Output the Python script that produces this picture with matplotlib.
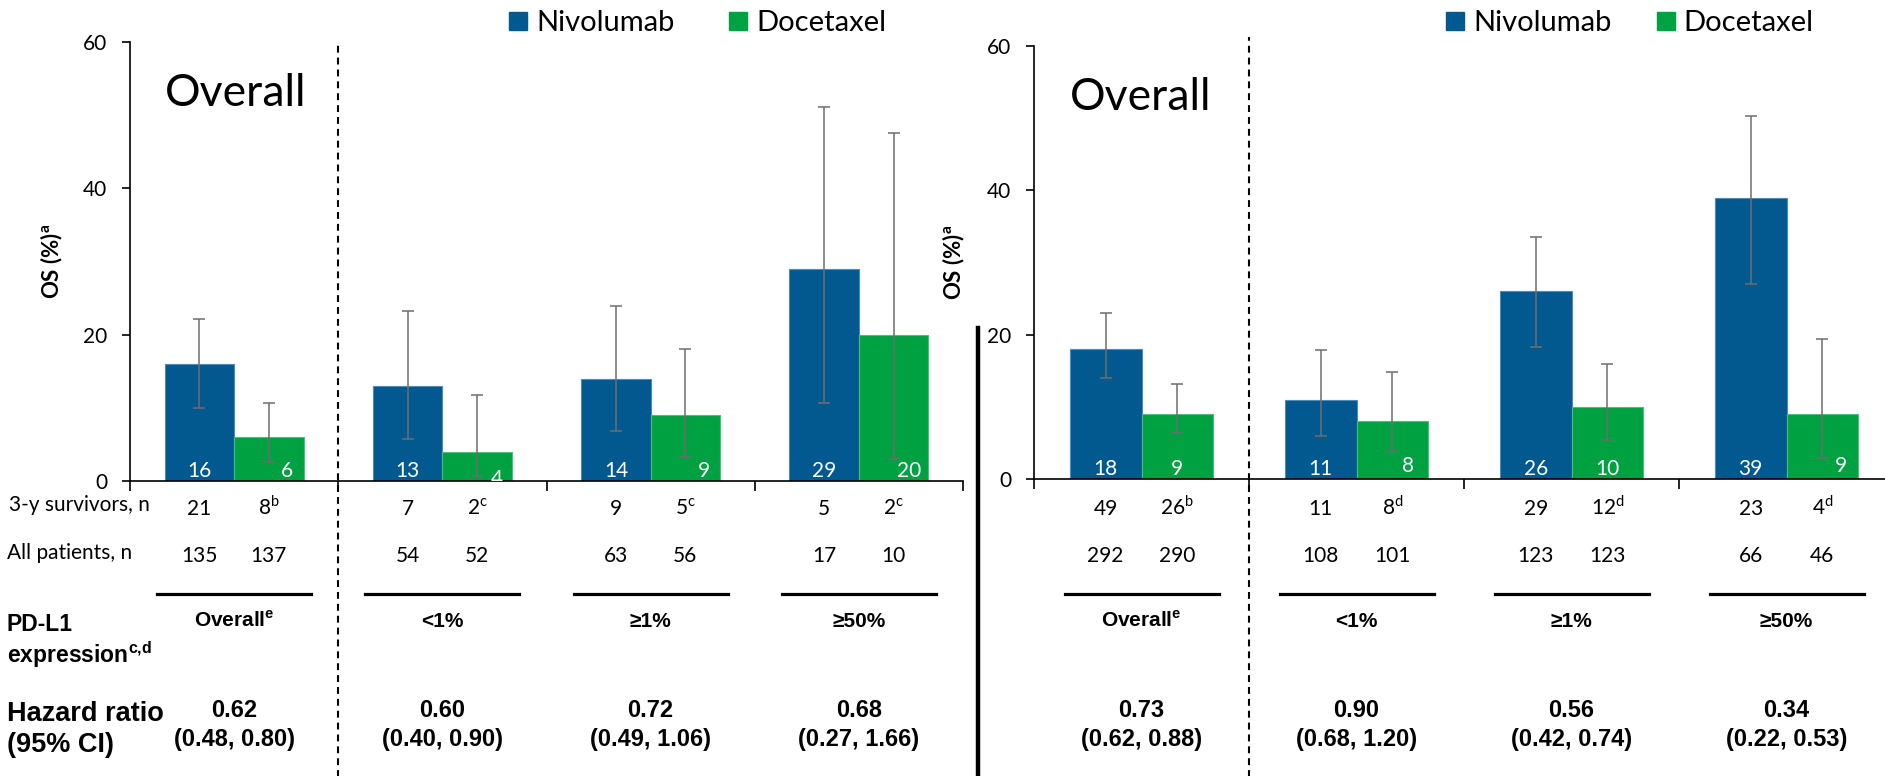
import numpy as np
import matplotlib.pyplot as plt
from matplotlib import transforms
from matplotlib.lines import Line2D
from matplotlib.patches import Rectangle

W, H, DPI = 1885, 776, 100

# PD-L1 subgroups shown along each panel
groups = ['Overall', '<1%', '≥1%', '≥50%']
group_marks = ['e', '', '', '']

# left study: 3-y OS (%) and 95% CI
nivo_os_l = [16, 13, 14, 29]
doce_os_l = [6, 4, 9, 20]
nivo_lo_l = [10.0, 5.7, 6.9, 10.7]
nivo_hi_l = [22.1, 23.3, 23.9, 51.1]
doce_lo_l = [2.6, 0.7, 3.3, 3.0]
doce_hi_l = [10.6, 11.7, 18.0, 47.5]
nivo_surv_l = [21, 7, 9, 5]
doce_surv_l = [8, 2, 5, 2]
doce_surv_marks_l = ['b', 'c', 'c', 'c']
nivo_n_l = [135, 54, 63, 17]
doce_n_l = [137, 52, 56, 10]
hr_l = ['0.62', '0.60', '0.72', '0.68']
hr_ci_l = ['(0.48, 0.80)', '(0.40, 0.90)', '(0.49, 1.06)', '(0.27, 1.66)']

# right study
nivo_os_r = [18, 11, 26, 39]
doce_os_r = [9, 8, 10, 9]
nivo_lo_r = [14.0, 5.9, 18.3, 27.0]
nivo_hi_r = [23.0, 17.9, 33.5, 50.3]
doce_lo_r = [6.4, 3.9, 5.4, 2.9]
doce_hi_r = [13.2, 14.8, 15.9, 19.4]
nivo_surv_r = [49, 11, 29, 23]
doce_surv_r = [26, 8, 12, 4]
doce_surv_marks_r = ['b', 'd', 'd', 'd']
nivo_n_r = [292, 108, 123, 66]
doce_n_r = [290, 101, 123, 46]
hr_r = ['0.73', '0.90', '0.56', '0.34']
hr_ci_r = ['(0.62, 0.88)', '(0.68, 1.20)', '(0.42, 0.74)', '(0.22, 0.53)']

BLUE, BLUE_EDGE = '#02598f', '#4a8cc0'
GREEN, GREEN_EDGE = '#00a140', '#4cc07a'
ERR = '#6e6e6e'
ARIAL = ['Liberation Sans', 'DejaVu Sans']

plt.rcParams['font.family'] = ['Lato', 'DejaVu Sans']


def sup(s):
    # footnote letter set as a superscript in the text's own font
    return r'$^{\mathregular{%s}}$' % s if s else ''


def fx(p):
    return p / W


def fy(p):
    return 1 - p / H


fig = plt.figure(figsize=(W / DPI, H / DPI), dpi=DPI)


def draw_panel(rect, nivo_os, doce_os, nivo_lo, nivo_hi, doce_lo, doce_hi,
               nivo_surv, doce_surv, doce_marks, nivo_n, doce_n, hr, hr_ci,
               doce_dx, doce_dy, dash_top):
    ax = fig.add_axes(rect)
    x = np.arange(len(groups))
    bw = 1 / 3

    ax.bar(x - bw / 2, nivo_os, bw, color=BLUE, edgecolor=BLUE_EDGE, lw=0.8, zorder=2)
    ax.bar(x + bw / 2, doce_os, bw, color=GREEN, edgecolor=GREEN_EDGE, lw=0.8, zorder=2)
    ax.errorbar(x - bw / 2, nivo_os,
                yerr=[np.subtract(nivo_os, nivo_lo), np.subtract(nivo_hi, nivo_os)],
                fmt='none', ecolor=ERR, elinewidth=1.1, capsize=4, capthick=1.1, zorder=3)
    ax.errorbar(x + bw / 2, doce_os,
                yerr=[np.subtract(doce_os, doce_lo), np.subtract(doce_hi, doce_os)],
                fmt='none', ecolor=ERR, elinewidth=1.1, capsize=4, capthick=1.1, zorder=3)

    # values printed at the foot of each bar
    for i in range(len(groups)):
        ax.text(x[i] - bw / 2, 0.6, str(nivo_os[i]), color='white', fontsize=15,
                ha='center', va='baseline', zorder=4, clip_on=True)
        ax.text(x[i] + bw / 2 + doce_dx[i], 0.6 + doce_dy[i], str(doce_os[i]),
                color='white', fontsize=15, ha='center', va='baseline', zorder=4,
                clip_on=True)

    ax.text(-bw, 51.2, 'Overall', fontsize=32, ha='left', va='baseline')
    ax.axvline(0.5, ymin=-0.7, ymax=dash_top, color='black', lw=1.5,
               ls=(0, (3.3, 2.4)), clip_on=False)

    ax.set_xlim(-0.5, len(groups) - 0.5)
    ax.set_ylim(0, 60)
    ax.set_yticks([0, 20, 40, 60])
    ax.set_xticks(np.arange(len(groups) + 1) - 0.5)
    ax.set_xticklabels([])
    for s in ['top', 'right']:
        ax.spines[s].set_visible(False)
    for s in ['left', 'bottom']:
        ax.spines[s].set_linewidth(1.2)
    ax.tick_params(axis='y', length=5.8, width=1.2, pad=10.5, labelsize=15)
    ax.tick_params(axis='x', length=7.2, width=1.2)
    ax.set_ylabel('OS (%)' + sup('a'), fontsize=16, fontweight='bold')
    ax.yaxis.set_label_coords(-0.078, 0.5)

    # table under the bars: counts, subgroup, hazard ratio
    tr = transforms.blended_transform_factory(ax.transData, fig.transFigure)
    half = 77 / (rect[2] * W / len(groups))
    for i in range(len(groups)):
        ax.text(x[i] - bw / 2, fy(515), str(nivo_surv[i]), transform=tr, fontsize=15,
                ha='center', va='baseline')
        ax.text(x[i] + bw / 2, fy(515), str(doce_surv[i]) + sup(doce_marks[i]),
                transform=tr, fontsize=15, ha='center', va='baseline')
        ax.text(x[i] - bw / 2, fy(562), str(nivo_n[i]), transform=tr, fontsize=15,
                ha='center', va='baseline')
        ax.text(x[i] + bw / 2, fy(562), str(doce_n[i]), transform=tr, fontsize=15,
                ha='center', va='baseline')
        fig.add_artist(Line2D([x[i] - half, x[i] + half], [fy(594)] * 2,
                              transform=tr, color='black', lw=2.3))
        ax.text(x[i], fy(627), groups[i] + sup(group_marks[i]), transform=tr,
                family=ARIAL, fontsize=15, fontweight='bold', ha='center', va='baseline')
        ax.text(x[i], fy(717), hr[i], transform=tr, family=ARIAL, fontsize=17,
                fontweight='bold', ha='center', va='baseline')
        ax.text(x[i], fy(746), hr_ci[i], transform=tr, family=ARIAL, fontsize=17,
                fontweight='bold', ha='center', va='baseline')
    return ax


draw_panel([fx(130), fy(481), fx(833), 439 / H],
           nivo_os_l, doce_os_l, nivo_lo_l, nivo_hi_l, doce_lo_l, doce_hi_l,
           nivo_surv_l, doce_surv_l, doce_surv_marks_l, nivo_n_l, doce_n_l, hr_l, hr_ci_l,
           doce_dx=[0.087, 0.094, 0.091, 0.077], doce_dy=[0, -1.2, 0, 0],
           dash_top=1.0)
draw_panel([fx(1034), fy(479), fx(860), 433 / H],
           nivo_os_r, doce_os_r, nivo_lo_r, nivo_hi_r, doce_lo_r, doce_hi_r,
           nivo_surv_r, doce_surv_r, doce_surv_marks_r, nivo_n_r, doce_n_r, hr_r, hr_ci_r,
           doce_dx=[0, 0.072, 0, 0.088], doce_dy=[0, 0.4, 0, 0.4],
           dash_top=1.021)

# row headings on the left
fig.text(fx(9), fy(511), '3-y survivors, n', fontsize=15, va='baseline')
fig.text(fx(7), fy(559), 'All patients, n', fontsize=15, va='baseline')
fig.text(fx(7), fy(631), 'PD-L1', family=ARIAL, fontsize=16.5, fontweight='bold', va='baseline')
fig.text(fx(7), fy(663), 'expression' + sup('c{,}d'), family=ARIAL, fontsize=16.5,
         fontweight='bold', va='baseline')
fig.text(fx(7), fy(721), 'Hazard ratio', family=ARIAL, fontsize=19.5, fontweight='bold',
         va='baseline')
fig.text(fx(7), fy(752), '(95% CI)', family=ARIAL, fontsize=19.5, fontweight='bold',
         va='baseline')

# legends above each panel
for sq_n, tx_n, sq_d, tx_d in [(509, 536, 729, 756), (1446, 1473, 1657, 1683)]:
    fig.add_artist(Rectangle((fx(sq_n), fy(30)), 18 / W, 18 / H, color=BLUE,
                             transform=fig.transFigure))
    fig.text(fx(tx_n), fy(31), 'Nivolumab', fontsize=21, va='baseline')
    fig.add_artist(Rectangle((fx(sq_d), fy(30)), 18 / W, 18 / H, color=GREEN,
                             transform=fig.transFigure))
    fig.text(fx(tx_d), fy(31), 'Docetaxel', fontsize=21, va='baseline')

# heavy divider between the two panels
fig.add_artist(Line2D([fx(978)] * 2, [fy(328), 0], color='black', lw=3.2,
                      transform=fig.transFigure))

fig.savefig('out.png', dpi=DPI)
